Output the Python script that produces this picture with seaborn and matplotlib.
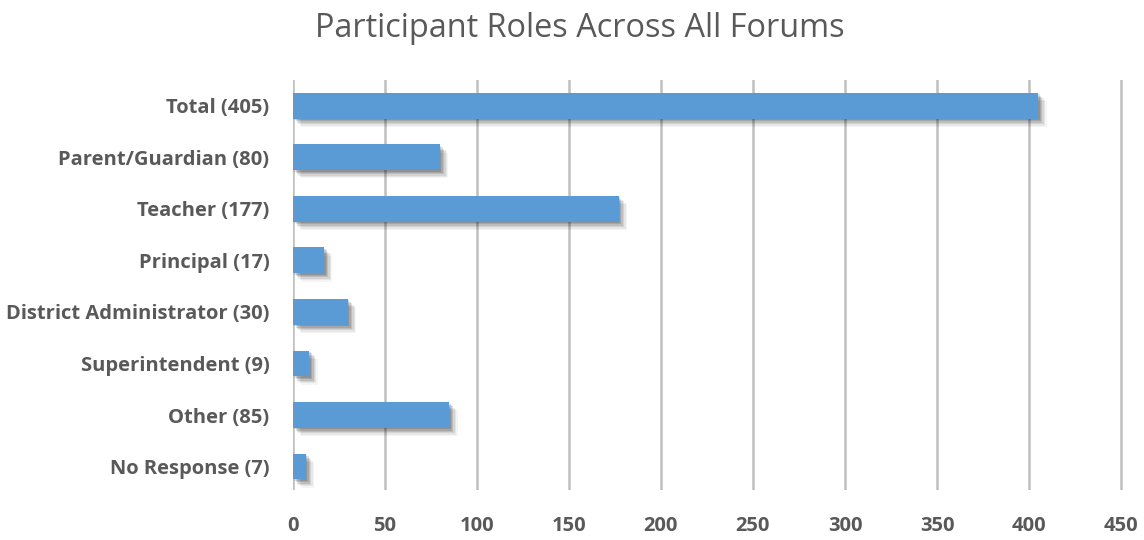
import matplotlib
matplotlib.use("Agg")
import matplotlib.pyplot as plt
import matplotlib.patheffects as pe
import seaborn as sns
import pandas as pd

roles = ["Total (405)", "Parent/Guardian (80)", "Teacher (177)", "Principal (17)",
         "District Administrator (30)", "Superintendent (9)", "Other (85)", "No Response (7)"]
counts = [405, 80, 177, 17, 30, 9, 85, 7]
xticks = [0, 50, 100, 150, 200, 250, 300, 350, 400, 450]

df = pd.DataFrame({"role": roles, "count": counts})

sns.set_style("white")
plt.rcParams["font.family"] = ["Open Sans", "DejaVu Sans"]

fig = plt.figure(figsize=(11.44, 5.4), dpi=100)
ax = fig.add_axes([0.256, 0.093, 0.732, 0.759])

sns.barplot(data=df, x="count", y="role", color="#5B9BD5", saturation=1,
            width=0.5, ax=ax, zorder=3)

# soft, blurred-looking drop shadow: several faint offset copies
shadow = [pe.SimplePatchShadow(offset=(o, -o), shadow_rgbFace="black", alpha=a)
          for o, a in [(6, 0.04), (5, 0.06), (4, 0.08), (3, 0.10), (2, 0.12), (1, 0.12)]]
shadow.append(pe.Normal())
for p in ax.patches:
    p.set_path_effects(shadow)
    p.set_linewidth(0)

ax.set_xlim(0, 455)
ax.set_ylim(7.45, -0.5)
ax.set_xticks(xticks)
ax.xaxis.grid(True, color="#BFBFBF", linewidth=1.8, zorder=0)
ax.yaxis.grid(False)
for s in ax.spines.values():
    s.set_visible(False)
ax.tick_params(axis="both", length=0, labelsize=14.5, labelcolor="#595959")
for lab in ax.get_xticklabels() + ax.get_yticklabels():
    lab.set_fontweight("bold")
ax.tick_params(axis="x", pad=19)
ax.tick_params(axis="y", pad=17)
ax.set_xlabel("")
ax.set_ylabel("")

fig.text(0.507, 0.948, "Participant Roles Across All Forums", ha="center", va="center",
         fontsize=23.4, color="#595959")

fig.savefig("out.png", dpi=100)
